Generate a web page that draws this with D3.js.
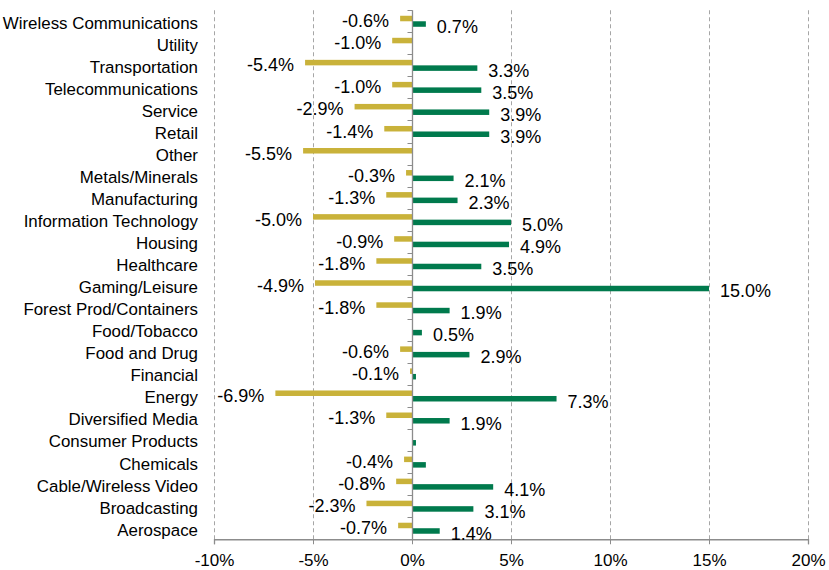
<!DOCTYPE html>
<html>
<head>
<meta charset="utf-8">
<script src="https://cdn.jsdelivr.net/npm/d3@7"></script>
<style>
  html, body { margin: 0; padding: 0; background: #fff; }
  svg { display: block; font-family: "Liberation Sans", Arial, sans-serif; }
</style>
</head>
<body>
<svg id="chart" width="829" height="570"></svg>
<script>
// Categories, top to bottom
const categories = [
  "Wireless Communications", "Utility", "Transportation", "Telecommunications",
  "Service", "Retail", "Other", "Metals/Minerals", "Manufacturing",
  "Information Technology", "Housing", "Healthcare", "Gaming/Leisure",
  "Forest Prod/Containers", "Food/Tobacco", "Food and Drug", "Financial",
  "Energy", "Diversified Media", "Consumer Products", "Chemicals",
  "Cable/Wireless Video", "Broadcasting", "Aerospace"
];
// Series 1 (gold) values, % (null = no bar)
const goldValues = [
  -0.6, -1.0, -5.4, -1.0, -2.9, -1.4, -5.5, -0.3, -1.3,
  -5.0, -0.9, -1.8, -4.9, -1.8, null, -0.6, -0.1,
  -6.9, -1.3, null, -0.4, -0.8, -2.3, -0.7
];
// Series 2 (green) values, %
const greenValues = [
  0.7, null, 3.3, 3.5, 3.9, 3.9, null, 2.1, 2.3,
  5.0, 4.9, 3.5, 15.0, 1.9, 0.5, 2.9, 0.2,
  7.3, 1.9, 0.2, 0.7, 4.1, 3.1, 1.4
];
// Data labels as shown (null = not shown)
const goldLabels = [
  "-0.6%", "-1.0%", "-5.4%", "-1.0%", "-2.9%", "-1.4%", "-5.5%", "-0.3%", "-1.3%",
  "-5.0%", "-0.9%", "-1.8%", "-4.9%", "-1.8%", null, "-0.6%", "-0.1%",
  "-6.9%", "-1.3%", null, "-0.4%", "-0.8%", "-2.3%", "-0.7%"
];
const greenLabels = [
  "0.7%", null, "3.3%", "3.5%", "3.9%", "3.9%", null, "2.1%", "2.3%",
  "5.0%", "4.9%", "3.5%", "15.0%", "1.9%", "0.5%", "2.9%", null,
  "7.3%", "1.9%", null, null, "4.1%", "3.1%", "1.4%"
];
const xTicks = [-10, -5, 0, 5, 10, 15, 20];
const xTickLabels = ["-10%", "-5%", "0%", "5%", "10%", "15%", "20%"];

const GOLD = "#C9B23A";
const GREEN = "#007A4D";
const AXIS = "#8C8C8C";
const GRID = "#A6A6A6";

const svg = d3.select("#chart");
const pL = 214, pR = 808, pT = 10.25, pB = 539.25;

const x = d3.scaleLinear().domain([-10, 20]).range([pL, pR]);
const y = d3.scaleBand().domain(categories).range([pT, pB]).paddingInner(0).paddingOuter(0);
const band = y.bandwidth();
const barH = band * 0.25;

// Gridlines (dashed) except at zero
svg.append("g").selectAll("line")
  .data(xTicks.filter(d => d !== 0))
  .join("line")
  .attr("x1", d => Math.round(x(d)) + 0.5)
  .attr("x2", d => Math.round(x(d)) + 0.5)
  .attr("y1", pT)
  .attr("y2", pB)
  .attr("stroke", GRID)
  .attr("stroke-width", 1)
  .attr("stroke-dasharray", "4,3");

// Bars
const gBars = svg.append("g");
gBars.selectAll("rect.gold")
  .data(categories.map((c, i) => ({c, v: goldValues[i]})).filter(d => d.v !== null))
  .join("rect")
  .attr("class", "gold")
  .attr("x", d => x(Math.min(0, d.v)))
  .attr("width", d => Math.abs(x(d.v) - x(0)))
  .attr("y", d => y(d.c) + band / 2 - barH)
  .attr("height", barH)
  .attr("fill", GOLD);

gBars.selectAll("rect.green")
  .data(categories.map((c, i) => ({c, v: greenValues[i]})).filter(d => d.v !== null))
  .join("rect")
  .attr("class", "green")
  .attr("x", d => x(Math.min(0, d.v)))
  .attr("width", d => Math.abs(x(d.v) - x(0)))
  .attr("y", d => y(d.c) + band / 2)
  .attr("height", barH)
  .attr("fill", GREEN);

// Zero axis (vertical) with category ticks on the left
const zx = Math.round(x(0)) + 0.5;
svg.append("line")
  .attr("x1", zx).attr("x2", zx)
  .attr("y1", pT).attr("y2", pB)
  .attr("stroke", AXIS).attr("stroke-width", 1.3);
svg.append("g").selectAll("line")
  .data(d3.range(categories.length + 1))
  .join("line")
  .attr("x1", zx - 5).attr("x2", zx)
  .attr("y1", i => Math.round(pT + i * band) + 0.5)
  .attr("y2", i => Math.round(pT + i * band) + 0.5)
  .attr("stroke", AXIS).attr("stroke-width", 1);

// Bottom axis
const xAxis = d3.axisBottom(x)
  .tickValues(xTicks)
  .tickFormat((d, i) => xTickLabels[i])
  .tickSize(5)
  .tickPadding(9.5);
const gx = svg.append("g")
  .attr("transform", `translate(0,${pB})`)
  .call(xAxis);
gx.select(".domain").attr("stroke", AXIS).attr("stroke-width", 1.3);
gx.selectAll(".tick line").attr("stroke", AXIS);
gx.selectAll(".tick text")
  .attr("fill", "#000")
  .style("font-size", "17px")
  .style("font-family", "'Liberation Sans', Arial, sans-serif");

// Category labels
svg.append("g").selectAll("text")
  .data(categories)
  .join("text")
  .attr("x", 198)
  .attr("y", d => y(d) + band / 2 + 1.5)
  .attr("dy", "0.35em")
  .attr("text-anchor", "end")
  .attr("fill", "#000")
  .style("font-size", "16.9px")
  .text(d => d);

// Data labels
const gLab = svg.append("g").style("font-size", "18px").attr("fill", "#000");
gLab.selectAll("text.gl")
  .data(categories.map((c, i) => ({c, v: goldValues[i], t: goldLabels[i]})).filter(d => d.t))
  .join("text")
  .attr("class", "gl")
  .attr("x", d => x(d.v) - 11)
  .attr("y", d => y(d.c) + band / 2 - barH / 2 + 2.5)
  .attr("dy", "0.35em")
  .attr("text-anchor", "end")
  .text(d => d.t);

gLab.selectAll("text.grl")
  .data(categories.map((c, i) => ({c, v: greenValues[i], t: greenLabels[i]})).filter(d => d.t))
  .join("text")
  .attr("class", "grl")
  .attr("x", d => x(d.v) + 11)
  .attr("y", d => y(d.c) + band / 2 + barH / 2 + 2.5)
  .attr("dy", "0.35em")
  .attr("text-anchor", "start")
  .text(d => d.t);
</script>
</body>
</html>
